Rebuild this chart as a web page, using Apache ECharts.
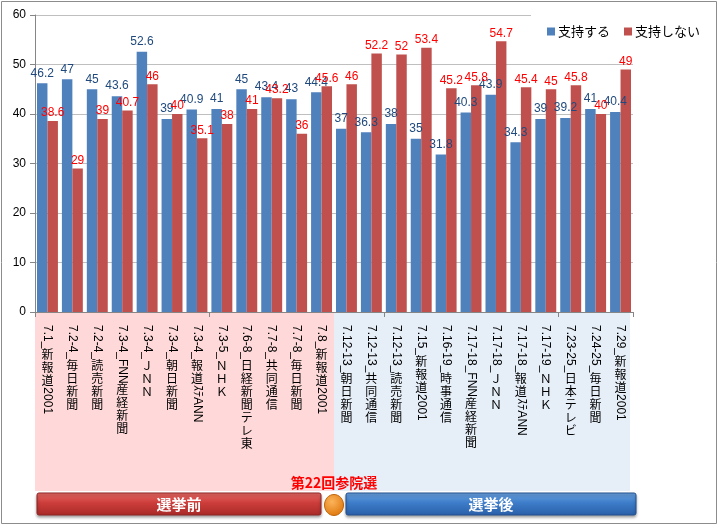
<!DOCTYPE html>
<html>
<head>
<meta charset="utf-8">
<script src="https://cdn.jsdelivr.net/npm/echarts@6/dist/echarts.min.js"></script>
<style>
html,body{margin:0;padding:0;background:#fff;}
#c{width:720px;height:527px;}
</style>
</head>
<body>
<div id="c"></div>
<script>
// ---- data ----
const categories = ['7.1_新報道2001','7.2-4_毎日新聞','7.2-4_読売新聞','7.3-4_FNN産経新聞','7.3-4_ＪＮＮ','7.3-4_朝日新聞','7.3-4_報道ｽﾃANN','7.3-5_ＮＨＫ','7.6-8_日経新聞テレ東','7.7-8_共同通信','7.7-8_毎日新聞','7.8_新報道2001','7.12-13_朝日新聞','7.12-13_共同通信','7.12-13_読売新聞','7.15_新報道2001','7.16-19_時事通信','7.17-18_FNN産経新聞','7.17-18_ＪＮＮ','7.17-18_報道ｽﾃANN','7.17-19_ＮＨＫ','7.23-25_日本テレビ','7.24-25_毎日新聞','7.29_新報道2001'];
const seriesNames = ['支持する','支持しない'];
const support = [46.2,47,45,43.6,52.6,39,40.9,41,45,43.4,43,44.4,37,36.3,38,35,31.8,40.3,43.9,34.3,39,39.2,41,40.4];
const oppose = [38.6,29,39,40.7,46,40,35.1,38,41,43.2,36,45.6,46,52.2,52,53.4,45.2,45.8,54.7,45.4,45,45.8,40,49];
const yTicks = [0,10,20,30,40,50,60];
const splitIndex = 12;
const electionLabel = '第22回参院選';
const beforeLabel = '選挙前';
const afterLabel = '選挙後';

// ---- helpers ----
const HALF_FONT = '12px "Liberation Sans", "Noto Sans CJK JP", sans-serif';
const FULL_FONT = '12px "Noto Sans CJK JP", sans-serif';
const mctx = document.createElement('canvas').getContext('2d');
function measure(t){ mctx.font = HALF_FONT; return mctx.measureText(t).width; }
function isHalf(ch){ const c = ch.charCodeAt(0); return c < 0x2000 || (c >= 0xFF61 && c <= 0xFF9F); }
function splitRuns(s){
  const out = []; let cur = '';
  for (const ch of s) {
    if (isHalf(ch)) { cur += ch; }
    else { if (cur) { out.push({half:true,t:cur}); cur=''; } out.push({half:false,t:ch}); }
  }
  if (cur) out.push({half:true,t:cur});
  return out;
}

const chart = echarts.init(document.getElementById('c'));
const option = {
  animation: false,
  grid: {left: 35, right: 87, top: 15, bottom: 215, containLabel: false},
  legend: {
    data: seriesNames, right: 4, top: 10,
    padding: [15, 16, 8, 16], backgroundColor: '#fff',
    itemWidth: 8, itemHeight: 8, itemGap: 14, icon: 'rect',
    textStyle: {fontSize: 13, color: '#000', fontFamily: '"Noto Sans CJK JP", sans-serif', padding: [0,0,0,-2]}
  },
  xAxis: {
    type: 'category', data: categories, z: 3,
    axisLine: {lineStyle: {color: '#868686'}},
    axisTick: {show: true, length: 5, lineStyle: {color: '#868686'}},
    axisLabel: {show: false}
  },
  yAxis: {
    type: 'value', min: yTicks[0], max: yTicks[yTicks.length-1], interval: 10,
    axisLine: {show: true, lineStyle: {color: '#868686'}},
    axisTick: {show: true, length: 5, lineStyle: {color: '#868686'}},
    axisLabel: {fontSize: 12, color: '#000', margin: 9, fontFamily: '"Liberation Sans", sans-serif'},
    splitLine: {lineStyle: {color: '#bfbfbf'}}
  },
  graphic: [{type:'rect', shape:{x:1.5,y:1.5,width:715,height:522}, style:{fill:'none', stroke:'#8c8c8c', lineWidth:1}, silent:true}],
  series: [
    {
      name: seriesNames[0], type: 'bar', data: support, z: 2,
      barGap: '0%', barCategoryGap: '16%',
      itemStyle: {color: '#4f81bd'},
      label: {show: true, position: 'top', distance: 4, color: '#1f497d', fontSize: 12, fontFamily: '"Liberation Sans", sans-serif'}
    },
    {
      name: seriesNames[1], type: 'bar', data: oppose, z: 2,
      itemStyle: {color: '#c0504d'},
      label: {show: true, position: 'top', distance: 2, color: '#ff0000', fontSize: 12, fontFamily: '"Liberation Sans", sans-serif'}
    },
    {
      type: 'custom', name: 'deco', z: 1, silent: true,
      data: [[0, 0]],
      renderItem: function(params, api){
        const bw = api.size([1,0])[0];
        const p0 = api.coord([0,0]);
        const axisY = p0[1];
        const left = p0[0] - bw/2;
        const mid = api.coord([splitIndex,0])[0] - bw/2;
        const right = api.coord([categories.length-1,0])[0] + bw/2;
        const bottom = axisY + 179;
        const bTop = axisY + 181, bH = 22;
        const redGrad = new echarts.graphic.LinearGradient(0,0,0,1,[{offset:0,color:'#e86a66'},{offset:0.45,color:'#cc3d3a'},{offset:1,color:'#a82a28'}]);
        const blueGrad = new echarts.graphic.LinearGradient(0,0,0,1,[{offset:0,color:'#6aa3e0'},{offset:0.45,color:'#3d7cc9'},{offset:1,color:'#2a5fa8'}]);
        const orangeGrad = new echarts.graphic.RadialGradient(0.4,0.35,0.7,[{offset:0,color:'#fcb45a'},{offset:1,color:'#e07a10'}]);
        return {type:'group', children:[
          {type:'rect', shape:{x:left, y:axisY+1, width:mid-left, height:bottom-axisY-1}, style:{fill:'#ffd9d9'}},
          {type:'rect', shape:{x:mid, y:axisY+1, width:right-3-mid, height:bottom-axisY-1}, style:{fill:'#e6eef8'}},
          {type:'text', x:mid, y:axisY+171, style:{text:electionLabel, font:'bold 14px "Noto Sans CJK JP", sans-serif', fill:'#ff0000', align:'center', verticalAlign:'middle'}},
          {type:'rect', shape:{x:left+2, y:bTop, width:mid-13-left-2, height:bH, r:2}, style:{fill:redGrad, stroke:'#8e2624', lineWidth:1, shadowBlur:3, shadowOffsetY:2, shadowColor:'rgba(0,0,0,0.35)'}},
          {type:'text', x:(left+2+mid-13)/2, y:bTop+bH/2, style:{text:beforeLabel, font:'bold 15px "Noto Sans CJK JP", sans-serif', fill:'#fff', align:'center', verticalAlign:'middle'}},
          {type:'ellipse', shape:{cx:mid, cy:bTop+bH/2+1, rx:9.5, ry:10.5}, style:{fill:orangeGrad, stroke:'#c0650c', lineWidth:1}},
          {type:'rect', shape:{x:mid+12, y:bTop, width:right+3-mid-12, height:bH, r:2}, style:{fill:blueGrad, stroke:'#24508e', lineWidth:1, shadowBlur:3, shadowOffsetY:2, shadowColor:'rgba(0,0,0,0.35)'}},
          {type:'text', x:(mid+12+right+3)/2, y:bTop+bH/2, style:{text:afterLabel, font:'bold 15px "Noto Sans CJK JP", sans-serif', fill:'#fff', align:'center', verticalAlign:'middle'}}
        ]};
      }
    },
    {
      type: 'custom', name: 'catLabels', z: 5, silent: true,
      data: categories.map((c, i) => [i, 0]),
      renderItem: function(params, api){
        const i = api.value(0);
        const p = api.coord([i, 0]);
        const cx = p[0];
        let y = p[1] + 13;
        const children = [];
        for (const r of splitRuns(categories[i])) {
          if (r.half) {
            children.push({type:'text', x:cx, y:y, rotation:-Math.PI/2, style:{text:r.t, font:HALF_FONT, fill:'#000', align:'left', verticalAlign:'middle'}});
            y += measure(r.t);
          } else {
            children.push({type:'text', x:cx, y:y, style:{text:r.t, font:FULL_FONT, fill:'#000', align:'center', verticalAlign:'top'}});
            y += 13;
          }
        }
        return {type:'group', children: children};
      }
    }
  ]
};
chart.setOption(option);
</script>
</body>
</html>
